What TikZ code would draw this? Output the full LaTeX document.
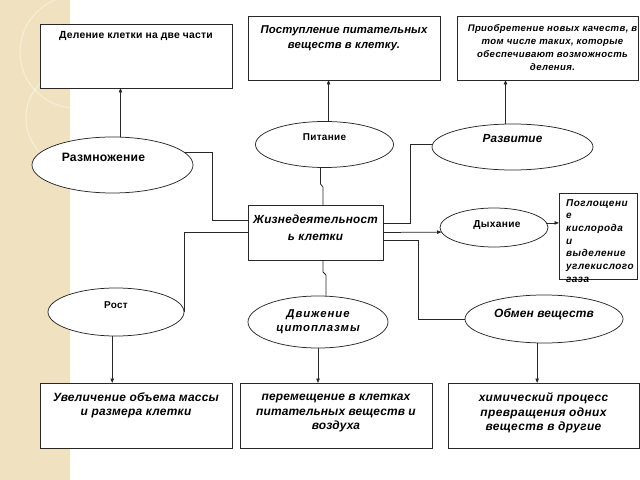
\documentclass[tikz,border=0pt]{standalone}
\usepackage{fontspec}
\setmainfont{Liberation Sans}
\usetikzlibrary{shapes.geometric,arrows.meta,calc}
\definecolor{strip}{RGB}{240,226,192}
\definecolor{linec}{RGB}{40,40,40}
\begin{document}
\begin{tikzpicture}[x=1bp,y=-1bp,
  box/.style={draw=linec,line width=0.75bp,fill=white,inner sep=0,outer sep=0},
  ell/.style={draw=linec,line width=0.75bp,fill=white,ellipse,inner sep=0,outer sep=0},
  conn/.style={draw=linec,line width=0.75bp},
  arr/.style={conn,-{Triangle[length=4.5bp,width=3.5bp]}},
  toptext/.style={anchor=north,inner sep=0,align=center},
  fb/.style 2 args={font=\fontsize{#1}{#1}\selectfont\bfseries\addfontfeatures{LetterSpace=#2}},
  fbi/.style 2 args={font=\fontsize{#1}{#1}\selectfont\bfseries\itshape\addfontfeatures{LetterSpace=#2}}
]
\useasboundingbox (0,0) rectangle (640,480);
\fill[white] (0,0) rectangle (640,480);
% decorative left strip
\begin{scope}
\clip (0,0) rectangle (70,480);
\fill[strip] (0,0) rectangle (70,480);
\draw[white,opacity=0.45,line width=1bp] (76,52) circle (56);
\draw[white,opacity=0.45,line width=1bp] (76,118) circle (50);
\end{scope}

% top boxes
\node[box,minimum width=192bp,minimum height=64bp] (box1) at (136,56) {};
\node[toptext,fb={10.4}{2},yshift=-7.5bp] at (box1.north) {\vphantom{Д}Деление клетки на две части};
\node[box,minimum width=192bp,minimum height=64bp] (box2) at (344,48) {};
\node[toptext,fbi={11.4}{1},yshift=-9bp] at (box2.north) {\vphantom{Д}Поступление питательных\\[4.6bp] веществ в клетку.};
\node[box,minimum width=181bp,minimum height=64bp] (box3) at (547.5,48) {};
\node[toptext,fbi={9.6}{4},yshift=-8.5bp,xshift=5bp] at (box3.north) {\vphantom{Д}Приобретение новых качеств, в\\[3.4bp] том числе таких, которые\\[3.4bp] обеспечивают возможность\\[3.4bp] деления.};

% ellipses
\node[ell,minimum width=161bp,minimum height=56bp,
  label={[fb={12.2}{2},xshift=-9bp,yshift=8bp]center:Размножение}] (razm) at (112.5,165) {};
\node[ell,minimum width=138bp,minimum height=46bp,
  label={[fb={10}{3},yshift=7bp]center:Питание}] (pit) at (324.5,144.5) {};
\node[ell,minimum width=161bp,minimum height=46bp,
  label={[fbi={11.8}{1},yshift=8bp]center:Развитие}] (razv) at (512.5,147) {};

% center box
\node[box,minimum width=135bp,minimum height=55bp] (ctr) at (315.5,232.5) {};
\node[toptext,fbi={11.8}{2},yshift=-10bp] at (ctr.north) {\vphantom{Д}Жизнедеятельност\\[5.2bp] ь клетки};

\node[ell,minimum width=108bp,minimum height=39bp,
  label={[fb={10.2}{3},xshift=3bp,yshift=2bp]center:Дыхание}] (dyh) at (494,227.5) {};
\node[box,minimum width=78bp,minimum height=86bp] (sb) at (598,236) {};
\node[anchor=north west,inner sep=0,align=left,fbi={10}{5},xshift=7bp,yshift=-6bp] at (sb.north west)
  {\vphantom{Д}Поглощени\\[2.7bp] е\\[2.7bp] кислорода\\[2.7bp] и\\[2.7bp] выделение\\[2.7bp] углекислого\\[2.7bp] газа};

\node[ell,minimum width=136bp,minimum height=48bp,
  label={[fb={10}{3},yshift=7bp]center:Рост}] (rost) at (116,312) {};
\node[ell,minimum width=140bp,minimum height=52bp,
  label={[fbi={11.4}{8},align=center]center:Движение\\[3bp] цитоплазмы}] (dv) at (318,322) {};
\node[ell,minimum width=158bp,minimum height=48bp,
  label={[fbi={12}{1},yshift=5bp]center:Обмен веществ}] (obm) at (544,319) {};

% bottom boxes
\node[box,minimum width=192bp,minimum height=65bp] (box4) at (136,415.5) {};
\node[toptext,fbi={12}{2},yshift=-9.5bp] at (box4.north) {\vphantom{Д}Увеличение объема массы\\[2.5bp] и размера клетки};
\node[box,minimum width=192bp,minimum height=65bp] (box5) at (336,415.5) {};
\node[toptext,fbi={12}{1},yshift=-9.5bp] at (box5.north) {\vphantom{Д}перемещение в клетках\\[2.5bp] питательных веществ и\\[2.5bp] воздуха};
\node[box,minimum width=191bp,minimum height=65bp] (box6) at (543.5,415.5) {};
\node[toptext,fbi={12}{3},yshift=-9.5bp] at (box6.north) {\vphantom{Д}химический процесс\\[2.5bp] превращения одних\\[2.5bp] веществ в другие};

% junction coordinates
\coordinate (j1) at (212,220);
\coordinate (p1) at (320,184);
\coordinate (p2) at (323,187);
\coordinate (j3) at (410,223);
\coordinate (j4) at (418,240);
\coordinate (p3) at (323,272);
\coordinate (p4) at (326,275);

% connectors
\draw[arr] (razm.74) -- (razm.74 |- box1.south);
\draw[arr] (pit.80) -- (pit.80 |- box2.south);
\draw[arr] (razv.107) -- (razv.107 |- box3.south);
\draw[conn] (razm.10) -| (j1) -- (ctr.west |- j1);
\draw[conn] (pit.-100) -- (pit.-100 |- p1) -- (p2) -- (p2 |- ctr.north);
\draw[conn] (razv.178) -| (j3) -- (ctr.east |- j3);
\draw[arr] (ctr.east) -- (dyh.185);
\draw[arr] (dyh.5) -- (dyh.5 -| sb.west);
\draw[conn] (ctr.east |- j4) -- (j4) |- (obm.west);
\draw[conn] (ctr.west) -| (rost.east);
\draw[conn] (p3 |- ctr.south) -- (p3) -- (p4) -- (p4 |- dv.north);
\draw[arr] (rost.-99.5) -- (rost.-99.5 |- box4.north);
\draw[arr] (dv.south) -- (dv.south |- box5.north);
\draw[arr] (obm.-106) -- (obm.-106 |- box6.north);
\end{tikzpicture}
\end{document}
